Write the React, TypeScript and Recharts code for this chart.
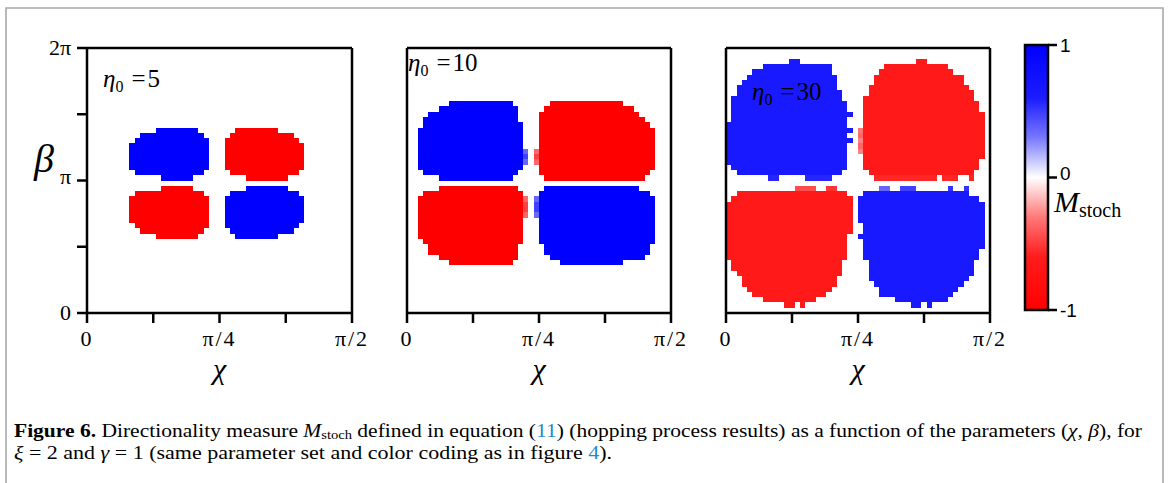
import React from 'react';
import { ScatterChart, Scatter, XAxis, YAxis, ReferenceArea } from 'recharts';

const W = 1168;
const H = 483;
const GRID = 50;
const CHI_MAX = 0.5; // χ in units of π
const BETA_MAX = 2; // β in units of π

const chiTicks = [0, 0.125, 0.25, 0.375, 0.5];
const chiTickLabels = ['0', '', 'π/4', '', 'π/2'];
const betaTicks = [0, 0.5, 1, 1.5, 2];
const betaTickLabels = ['0', '', 'π', '', '2π'];
const cbarTicks = [-1, 0, 1];
const cbarTickLabels = ['-1', '0', '1'];
const etaValues = ['5', '10', '30'];

// [row (β index), first column (χ index), last column, M_stoch]
type Span = [number, number, number, number];

const spansEta5: Span[] = [
  [34, 13, 20, 1], [33, 10, 21, 1], [32, 9, 22, 1], [31, 8, 22, 1], [30, 8, 22, 1], [29, 8, 22, 1], [28, 8, 22, 1], [27, 8, 22, 1], [26, 9, 21, 1], [25, 14, 19, 1],
  [34, 28, 35, -1], [33, 27, 38, -1], [32, 26, 39, -1], [31, 26, 40, -1], [30, 26, 40, -1], [29, 26, 40, -1], [28, 26, 40, -1], [27, 26, 40, -1], [26, 27, 39, -1], [25, 30, 37, -1],
  [23, 14, 19, -1], [22, 9, 21, -1], [21, 8, 22, -1], [20, 8, 22, -1], [19, 8, 22, -1], [18, 8, 22, -1], [17, 8, 22, -1], [16, 9, 22, -1], [15, 10, 21, -1], [14, 13, 20, -1],
  [23, 30, 37, 1], [22, 27, 39, 1], [21, 26, 40, 1], [20, 26, 40, 1], [19, 26, 40, 1], [18, 26, 40, 1], [17, 26, 40, 1], [16, 26, 39, 1], [15, 27, 38, 1], [14, 28, 35, 1],
];

const spansEta10: Span[] = [
  [39, 8, 19, 1], [38, 6, 20, 1], [37, 4, 20, 1], [36, 3, 20, 1], [35, 3, 21, 1], [34, 2, 21, 1], [33, 2, 21, 1], [32, 2, 21, 1], [31, 2, 21, 1], [30, 2, 21, 1], [29, 2, 21, 1], [28, 2, 21, 1], [27, 2, 21, 1], [26, 3, 20, 1], [25, 6, 19, 1],
  [30, 22, 22, 0.6], [29, 22, 22, 0.75], [28, 22, 22, 0.6],
  [39, 27, 40, -1], [38, 26, 42, -1], [37, 25, 43, -1], [36, 25, 44, -1], [35, 25, 45, -1], [34, 25, 46, -1], [33, 25, 46, -1], [32, 25, 46, -1], [31, 25, 46, -1], [30, 25, 46, -1], [29, 25, 46, -1], [28, 25, 46, -1], [27, 25, 46, -1], [26, 25, 45, -1], [25, 26, 44, -1],
  [30, 24, 24, -0.6], [29, 24, 24, -0.75], [28, 24, 24, -0.6],
  [23, 6, 20, -1], [22, 3, 21, -1], [21, 2, 21, -1], [20, 2, 21, -1], [19, 2, 21, -1], [18, 2, 21, -1], [17, 2, 21, -1], [16, 2, 21, -1], [15, 2, 21, -1], [14, 2, 21, -1], [13, 3, 21, -1], [12, 4, 20, -1], [11, 4, 20, -1], [10, 6, 20, -1], [9, 8, 19, -1],
  [21, 22, 22, -0.6], [20, 22, 22, -0.75], [19, 22, 22, -0.75], [18, 22, 22, -0.6],
  [23, 26, 43, 1], [22, 25, 45, 1], [21, 25, 46, 1], [20, 25, 46, 1], [19, 25, 46, 1], [18, 25, 46, 1], [17, 25, 46, 1], [16, 25, 46, 1], [15, 25, 46, 1], [14, 25, 46, 1], [13, 25, 46, 1], [12, 26, 45, 1], [11, 26, 45, 1], [10, 27, 44, 1], [9, 29, 40, 1],
  [21, 24, 24, 0.6], [20, 24, 24, 0.75], [19, 24, 24, 0.75], [18, 24, 24, 0.6],
];

const spansEta30: Span[] = [
  [47, 12, 13, 0.9], [46, 7, 19, 0.9], [45, 5, 19, 0.9], [44, 4, 20, 0.9], [43, 3, 20, 0.9], [42, 2, 20, 0.9], [41, 2, 21, 0.9], [40, 1, 21, 0.9], [39, 1, 22, 0.9], [38, 1, 22, 0.9], [37, 1, 23, 0.9], [36, 1, 22, 0.9], [35, 0, 22, 0.9], [34, 0, 23, 0.9], [33, 0, 22, 0.9], [32, 0, 23, 0.9], [31, 0, 22, 0.9], [30, 0, 22, 0.9], [29, 0, 22, 0.9], [28, 0, 22, 0.9], [27, 1, 22, 0.9], [26, 2, 21, 0.9], [25, 8, 9, 0.85], [25, 15, 19, 0.85],
  [47, 36, 37, -0.9], [46, 30, 41, -0.9], [45, 29, 42, -0.9], [44, 28, 44, -0.9], [43, 28, 44, -0.9], [42, 27, 45, -0.9], [41, 27, 46, -0.9], [40, 26, 46, -0.9], [39, 26, 47, -0.9], [38, 26, 47, -0.9], [37, 26, 48, -0.9], [36, 26, 48, -0.9], [35, 26, 48, -0.9], [34, 26, 48, -0.9], [33, 26, 48, -0.9], [32, 26, 48, -0.9], [31, 26, 48, -0.9], [30, 26, 48, -0.9], [29, 26, 48, -0.9], [28, 26, 47, -0.9], [27, 26, 47, -0.9], [26, 27, 46, -0.9], [25, 28, 39, -0.85], [25, 41, 43, -0.85], [25, 46, 46, -0.85],
  [34, 25, 25, -0.55], [33, 25, 25, -0.6], [32, 25, 25, -0.5], [31, 25, 25, -0.6], [30, 25, 25, -0.5],
  [23, 13, 16, -0.7], [23, 19, 20, -0.8], [22, 2, 22, -0.9], [21, 1, 23, -0.9], [20, 0, 23, -0.9], [19, 0, 23, -0.9], [18, 0, 23, -0.9], [17, 0, 23, -0.9], [16, 0, 23, -0.9], [15, 0, 23, -0.9], [14, 0, 22, -0.9], [13, 0, 22, -0.9], [12, 0, 22, -0.9], [11, 0, 22, -0.9], [10, 0, 22, -0.9], [9, 1, 21, -0.9], [8, 1, 21, -0.9], [7, 2, 21, -0.9], [6, 3, 20, -0.9], [5, 3, 20, -0.9], [4, 4, 19, -0.9], [3, 5, 18, -0.9], [2, 7, 16, -0.9], [1, 11, 12, -0.9], [1, 14, 14, -0.9],
  [23, 29, 30, 0.6], [23, 33, 35, 0.75], [23, 42, 42, 0.8], [23, 45, 45, 0.8], [22, 26, 45, 0.9], [21, 25, 47, 0.9], [20, 25, 48, 0.9], [19, 25, 48, 0.9], [18, 25, 48, 0.9], [17, 25, 48, 0.9], [16, 26, 48, 0.9], [15, 26, 48, 0.9], [14, 25, 48, 0.9], [13, 26, 48, 0.9], [12, 26, 48, 0.9], [11, 26, 47, 0.9], [10, 26, 47, 0.9], [9, 27, 46, 0.9], [8, 27, 46, 0.9], [7, 27, 46, 0.9], [6, 27, 45, 0.9], [5, 28, 44, 0.9], [4, 29, 43, 0.9], [3, 29, 42, 0.9], [2, 32, 41, 0.9], [1, 35, 36, 0.9], [1, 38, 38, 0.9],
];

const PLOT_TOP = 48;
const PLOT_BOTTOM = 313;
const SERIF = '"Liberation Serif", "DejaVu Serif", serif';
const SANS = '"Liberation Sans", Arial, sans-serif';
const AX = { stroke: '#000', strokeWidth: 2.5 };
const NO_LINE = false;
const AXIS_PX = 1; // minimal axis band so recharts draws the axis

function colorOf(v: number): string {
  const c = Math.round(255 * (1 - Math.abs(v)));
  return v > 0 ? `rgb(${c},${c},255)` : `rgb(255,${c},${c})`;
}

function toCells(spans: Span[]) {
  return spans.map(([row, c0, c1, v]) => ({
    x1: (c0 * CHI_MAX) / GRID,
    x2: ((c1 + 1) * CHI_MAX) / GRID,
    y1: (row * BETA_MAX) / GRID,
    y2: ((row + 1) * BETA_MAX) / GRID,
    v,
  }));
}

const CellShape = (p: any) => (
  <rect x={p.x} y={p.y} width={p.width} height={p.height} fill={p.fill} shapeRendering="crispEdges" />
);

const BarShape = (p: any) => (
  <rect x={p.x} y={p.y} width={p.width} height={p.height} fill="url(#mstochGrad)" stroke="#000" strokeWidth={2.5} />
);

const chiTick = (p: any) => {
  const i = chiTicks.indexOf(p.payload.value);
  return (
    <text x={p.x} y={p.y + 21} textAnchor="middle" fontFamily={SERIF} fontSize={22} fill="#000" letterSpacing={2}>
      {chiTickLabels[i]}
    </text>
  );
};

const betaDy = [7, 0, 3, 0, 7];
const betaTick = (p: any) => {
  const i = betaTicks.indexOf(p.payload.value);
  return (
    <text x={p.x - 4} y={p.y + betaDy[i]} textAnchor="end" fontFamily={SERIF} fontSize={22} fill="#000">
      {betaTickLabels[i]}
    </text>
  );
};

const cbarDy = [7, 2, 7];
const cbarTick = (p: any) => {
  const i = cbarTicks.indexOf(p.payload.value);
  return (
    <text x={p.x + 1} y={p.y + cbarDy[i]} textAnchor="start" fontFamily={SANS} fontSize={19} fill="#000">
      {cbarTickLabels[i]}
    </text>
  );
};

function Panel({ spans, plotLeft, plotRight, yLabels }: { spans: Span[]; plotLeft: number; plotRight: number; yLabels: boolean }) {
  const cells = toCells(spans);
  return (
    <div style={{ position: 'absolute', left: 0, top: 0 }}>
      <ScatterChart
        width={W}
        height={H}
        margin={{
          top: PLOT_TOP - AXIS_PX,
          bottom: H - PLOT_BOTTOM - AXIS_PX,
          left: plotLeft - AXIS_PX,
          right: W - plotRight - AXIS_PX,
        }}
      >
        {cells.map((c, k) => (
          <ReferenceArea
            key={k}
            xAxisId="b"
            yAxisId="l"
            x1={c.x1}
            x2={c.x2}
            y1={c.y1}
            y2={c.y2}
            fill={colorOf(c.v)}
            fillOpacity={1}
            stroke="none"
            ifOverflow="visible"
            shape={CellShape}
          />
        ))}
        <XAxis xAxisId="b" type="number" dataKey="x" orientation="bottom" domain={[0, CHI_MAX]} ticks={chiTicks} interval={0} height={AXIS_PX} tickSize={10} axisLine={AX} tickLine={AX} tick={chiTick} allowDataOverflow />
        <XAxis xAxisId="t" type="number" dataKey="x" orientation="top" domain={[0, CHI_MAX]} ticks={chiTicks} interval={0} height={AXIS_PX} tickSize={10} axisLine={AX} tickLine={AX} tick={false} allowDataOverflow />
        <YAxis yAxisId="l" type="number" dataKey="y" orientation="left" domain={[0, BETA_MAX]} ticks={betaTicks} interval={0} width={AXIS_PX} tickSize={10} axisLine={AX} tickLine={AX} tick={yLabels ? betaTick : false} allowDataOverflow />
        <YAxis yAxisId="r" type="number" dataKey="y" orientation="right" domain={[0, BETA_MAX]} ticks={betaTicks} interval={0} width={AXIS_PX} tickSize={10} axisLine={AX} tickLine={AX} tick={false} allowDataOverflow />
        <Scatter xAxisId="b" yAxisId="l" data={[]} isAnimationActive={false} />
      </ScatterChart>
    </div>
  );
}

function ColorBar() {
  const top = 45;
  const bottom = 310;
  const left = 1025;
  const right = 1048;
  return (
    <div style={{ position: 'absolute', left: 0, top: 0 }}>
      <ScatterChart
        width={W}
        height={H}
        margin={{ top: top - AXIS_PX, bottom: H - bottom - AXIS_PX, left: left - AXIS_PX, right: W - right - AXIS_PX }}
      >
        <ReferenceArea xAxisId="b" yAxisId="l" x1={0} x2={1} y1={-1} y2={1} fill="#fff" fillOpacity={1} ifOverflow="visible" shape={BarShape} />
        <XAxis xAxisId="b" type="number" dataKey="x" orientation="bottom" domain={[0, 1]} height={AXIS_PX} axisLine={NO_LINE} tickLine={NO_LINE} tick={false} allowDataOverflow />
        <XAxis xAxisId="t" type="number" dataKey="x" orientation="top" domain={[0, 1]} height={AXIS_PX} axisLine={NO_LINE} tickLine={NO_LINE} tick={false} allowDataOverflow />
        <YAxis yAxisId="l" type="number" dataKey="y" orientation="left" domain={[-1, 1]} width={AXIS_PX} axisLine={NO_LINE} tickLine={NO_LINE} tick={false} allowDataOverflow />
        <YAxis yAxisId="r" type="number" dataKey="y" orientation="right" domain={[-1, 1]} ticks={cbarTicks} interval={0} width={AXIS_PX} tickSize={9} axisLine={NO_LINE} tickLine={AX} tick={cbarTick} allowDataOverflow />
        <Scatter xAxisId="b" yAxisId="l" data={[]} isAnimationActive={false} />
      </ScatterChart>
    </div>
  );
}

const panelLefts = [87, 407, 726];
const panelRights = [352, 671, 990];
const etaPos = [
  { x: 103, y: 87 },
  { x: 408, y: 71 },
  { x: 752, y: 100 },
];

function Overlay() {
  const blue = '#1d8acb';
  return (
    <svg width={W} height={H} style={{ position: 'absolute', left: 0, top: 0, pointerEvents: 'none' }}>
      <path d="M6,483 L6,8 L1163,8 L1163,483" fill="none" stroke="#a8a8a8" strokeWidth={1.6} />
      {etaPos.map((p, k) => (
        <text key={k} x={p.x} y={p.y} fontFamily={SERIF} fontSize={25} fill="#000">
          <tspan fontStyle="italic">η</tspan>
          <tspan fontSize={16} dy={5}>0</tspan>
          <tspan dy={-5} dx={8}>=</tspan>
          <tspan dx={2}>{etaValues[k]}</tspan>
        </text>
      ))}
      {panelLefts.map((l, k) => (
        <text key={k} x={(l + panelRights[k]) / 2} y={379} textAnchor="middle" fontFamily={SERIF} fontStyle="italic" fontSize={30} fill="#000">
          χ
        </text>
      ))}
      <text x={34} y={172} fontFamily={SERIF} fontStyle="italic" fontSize={40} fill="#000">β</text>
      <text x={1054} y={212} fontFamily={SERIF} fill="#000">
        <tspan fontStyle="italic" fontSize={30}>M</tspan>
        <tspan fontSize={20} dy={5}>stoch</tspan>
      </text>
      <text x={14} y={437} fontFamily={SERIF} fontSize={18.5} fill="#000" textLength={1128} lengthAdjust="spacingAndGlyphs">
        <tspan fontWeight="bold">Figure 6.</tspan>
        <tspan>{' Directionality measure '}</tspan>
        <tspan fontStyle="italic">M</tspan>
        <tspan fontSize={12.5} dy={2}>stoch</tspan>
        <tspan dy={-2}>{' defined in equation ('}</tspan>
        <tspan fill={blue}>11</tspan>
        <tspan>{') (hopping process results) as a function of the parameters ('}</tspan>
        <tspan fontStyle="italic">χ</tspan>
        <tspan>{', '}</tspan>
        <tspan fontStyle="italic">β</tspan>
        <tspan>{'), for'}</tspan>
      </text>
      <text x={14} y={459} fontFamily={SERIF} fontSize={18.5} fill="#000" textLength={598} lengthAdjust="spacingAndGlyphs">
        <tspan fontStyle="italic">ξ</tspan>
        <tspan>{' = 2 and '}</tspan>
        <tspan fontStyle="italic">γ</tspan>
        <tspan>{' = 1 (same parameter set and color coding as in figure '}</tspan>
        <tspan fill={blue}>4</tspan>
        <tspan>{').'}</tspan>
      </text>
    </svg>
  );
}

export default function App() {
  return (
    <div style={{ position: 'absolute', left: 0, top: 0, width: W, height: H, background: '#fff', overflow: 'hidden' }}>
      <svg width={0} height={0} style={{ position: 'absolute' }}>
        <defs>
          <linearGradient id="mstochGrad" x1="0" y1="0" x2="0" y2="1">
            <stop offset="0" stopColor="#0000ff" />
            <stop offset="0.2" stopColor="#1c1cff" />
            <stop offset="0.35" stopColor="#7878ff" />
            <stop offset="0.5" stopColor="#ffffff" />
            <stop offset="0.65" stopColor="#ff7878" />
            <stop offset="0.8" stopColor="#ff1c1c" />
            <stop offset="1" stopColor="#ff0000" />
          </linearGradient>
        </defs>
      </svg>
      <Panel spans={spansEta5} plotLeft={panelLefts[0]} plotRight={panelRights[0]} yLabels />
      <Panel spans={spansEta10} plotLeft={panelLefts[1]} plotRight={panelRights[1]} yLabels={false} />
      <Panel spans={spansEta30} plotLeft={panelLefts[2]} plotRight={panelRights[2]} yLabels={false} />
      <ColorBar />
      <Overlay />
    </div>
  );
}
